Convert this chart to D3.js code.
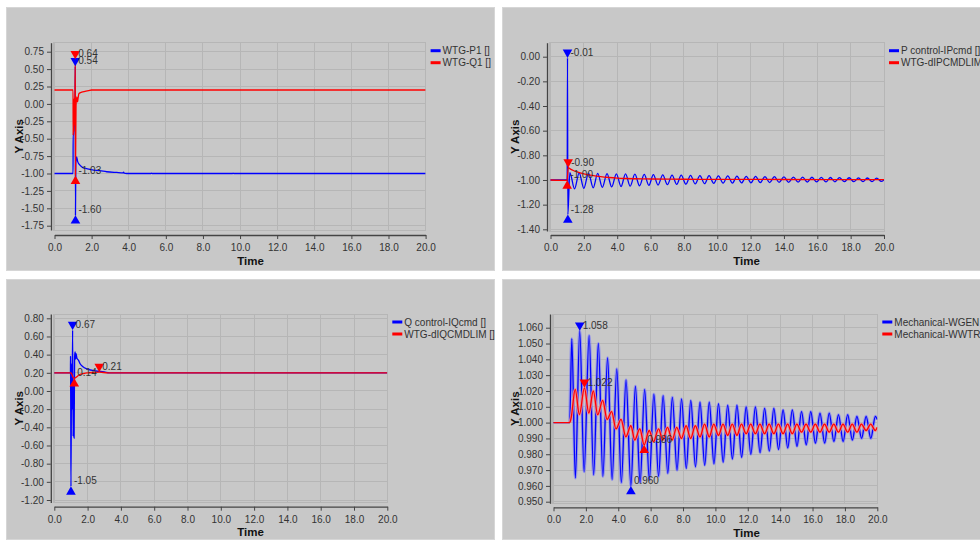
<!DOCTYPE html>
<html><head><meta charset="utf-8">
<script src="https://cdn.jsdelivr.net/npm/d3@7"></script>
<style>
html,body{margin:0;padding:0;background:#fff;}
svg{display:block;font-family:"Liberation Sans",Arial,sans-serif;}
</style></head><body>
<svg id="chart" width="980" height="540"></svg>
<script>
// ---------------- DATA ----------------
const xTicks = [0, 2, 4, 6, 8, 10, 12, 14, 16, 18, 20];
const p1YTicks = [0.75, 0.5, 0.25, 0, -0.25, -0.5, -0.75, -1, -1.25, -1.5, -1.75];
const p2YTicks = [0, -0.2, -0.4, -0.6, -0.8, -1.0, -1.2, -1.4];
const p3YTicks = [0.8, 0.6, 0.4, 0.2, 0, -0.2, -0.4, -0.6, -0.8, -1.0, -1.2];
const p4YTicks = [1.06, 1.05, 1.04, 1.03, 1.02, 1.01, 1.0, 0.99, 0.98, 0.97, 0.96, 0.95];

// Panel 1
const p1Names = ["WTG-P1 []", "WTG-Q1 []"];
const p1T_P = [0, 1.0, 1.005, 1.04, 1.07, 1.1, 1.12, 1.13, 1.15, 1.19, 1.25, 1.37, 1.55, 1.73, 2.1, 2.45, 2.81, 3.35, 3.7, 3.72, 3.76, 3.89, 5.2, 5.22, 5.26, 9.6, 9.62, 9.66, 20];
const p1V_P = [-1.0, -1.0, -0.43, -0.45, 0.05, -0.2, 0.54, -1.6, -0.85, -0.76, -0.83, -0.88, -0.92, -0.93, -0.95, -0.96, -0.975, -0.985, -0.99, -0.98, -0.995, -1.0, -1.0, -0.995, -1.0, -1.0, -0.995, -1.0, -1.0];
const p1T_Q = [0, 1.0, 1.005, 1.02, 1.04, 1.06, 1.08, 1.1, 1.12, 1.13, 1.16, 1.2, 1.24, 1.27, 1.32, 1.47, 1.65, 1.83, 2.0, 20];
const p1V_Q = [0.2, 0.2, -0.45, 0.05, -0.4, 0.08, -0.3, 0.0, 0.64, -1.03, -0.03, 0.1, 0.03, 0.08, 0.15, 0.17, 0.18, 0.19, 0.2, 0.2];

// Panel 2
const p2Names = ["P control-IPcmd []", "WTG-dIPCMDLIM []"];
const p2T_I = [0, 1.0, 1.02, 1.04, 1.16, 1.44, 1.72, 2.0, 2.28, 2.56, 2.83, 3.11, 3.39, 3.67, 3.95, 4.23, 4.5, 4.78, 5.06, 5.34, 5.62, 5.9, 6.17, 6.45, 6.73, 7.01, 7.29, 7.57, 7.84, 8.12, 8.4, 8.68, 8.96, 9.24, 9.51, 9.79, 10.07, 10.35, 10.63, 10.91, 11.18, 11.46, 11.74, 12.02, 12.3, 12.58, 12.86, 13.14, 13.43, 13.71, 14.0, 14.28, 14.57, 14.85, 15.12, 15.4, 15.68, 15.96, 16.24, 16.52, 16.78, 17.06, 17.33, 17.62, 17.91, 18.19, 18.47, 18.74, 19.0, 19.28, 19.56, 19.84, 20];
const p2V_I = [-1.0, -1.0, -0.01, -1.28, -0.94, -1.072, -0.942, -1.068, -0.944, -1.064, -0.946, -1.06, -0.948, -1.056, -0.95, -1.053, -0.951, -1.05, -0.953, -1.047, -0.955, -1.044, -0.957, -1.041, -0.958, -1.038, -0.96, -1.036, -0.961, -1.034, -0.962, -1.032, -0.964, -1.03, -0.965, -1.028, -0.966, -1.026, -0.967, -1.025, -0.969, -1.024, -0.97, -1.023, -0.971, -1.022, -0.972, -1.021, -0.973, -1.02, -0.975, -1.019, -0.976, -1.018, -0.977, -1.017, -0.978, -1.016, -0.979, -1.016, -0.98, -1.015, -0.981, -1.014, -0.982, -1.014, -0.983, -1.013, -0.984, -1.013, -0.985, -1.012, -1.0];
const p2T_L = [0, 1.0, 1.03, 1.06, 1.2, 1.4, 1.6, 2.0, 2.5, 3.0, 3.5, 4.0, 4.5, 5.0, 6.0, 8.0, 10.0, 14.0, 20];
const p2V_L = [-1.0, -1.003, -0.95, -0.9, -0.912, -0.925, -0.935, -0.95, -0.963, -0.973, -0.98, -0.985, -0.988, -0.99, -0.992, -0.994, -0.995, -0.996, -0.997];

// Panel 3
const p3Names = ["Q control-IQcmd []", "WTG-dIQCMDLIM []"];
const p3T_I = [0, 0.97, 0.975, 0.99, 1.0, 1.04, 1.07, 1.1, 1.13, 1.16, 1.19, 1.22, 1.25, 1.28, 1.31, 1.36, 1.45, 1.55, 1.7, 2.0, 2.5, 3.0, 3.3, 20];
const p3V_I = [0.2, 0.2, 0.38, -0.3, -1.05, 0.3, -0.2, 0.67, -0.5, 0.1, -0.52, 0.38, 0.43, 0.35, 0.41, 0.36, 0.34, 0.3, 0.27, 0.24, 0.22, 0.21, 0.2, 0.2];
const p3T_L = [0, 1.0, 1.05, 1.1, 1.2, 1.3, 1.45, 1.6, 1.8, 2.0, 2.3, 2.7, 3.2, 20];
const p3V_L = [0.2, 0.2, 0.185, 0.16, 0.14, 0.15, 0.17, 0.185, 0.195, 0.2, 0.204, 0.207, 0.2, 0.2];

// Panel 4
const p4Names = ["Mechanical-WGEN []", "Mechanical-WWTR []"];
const p4T_G = [0, 1.0, 1.13, 1.35, 1.62, 1.89, 2.2, 2.48, 2.77, 3.05, 3.34, 3.62, 3.91, 4.19, 4.48, 4.78, 5.06, 5.35, 5.63, 5.92, 6.2, 6.49, 6.77, 7.06, 7.34, 7.63, 7.91, 8.2, 8.48, 8.77, 9.05, 9.34, 9.62, 9.91, 10.19, 10.48, 10.76, 11.05, 11.33, 11.62, 11.9, 12.19, 12.47, 12.76, 13.04, 13.33, 13.61, 13.9, 14.18, 14.47, 14.75, 15.04, 15.32, 15.61, 15.89, 16.18, 16.46, 16.75, 17.03, 17.32, 17.6, 17.89, 18.17, 18.46, 18.74, 19.03, 19.31, 19.6, 19.88, 20];
const p4V_G = [1.0, 1.0, 1.053, 0.965, 1.058, 0.969, 1.055, 0.967, 1.05, 0.966, 1.041, 0.964, 1.034, 0.962, 1.027, 0.96, 1.023, 0.962, 1.021, 0.964, 1.018, 0.966, 1.017, 0.968, 1.016, 0.97, 1.015, 0.971, 1.014, 0.972, 1.013, 0.973, 1.013, 0.974, 1.012, 0.975, 1.011, 0.977, 1.011, 0.978, 1.01, 0.98, 1.01, 0.981, 1.009, 0.982, 1.009, 0.983, 1.008, 0.984, 1.008, 0.985, 1.007, 0.986, 1.007, 0.987, 1.006, 0.987, 1.006, 0.988, 1.005, 0.988, 1.005, 0.989, 1.004, 0.99, 1.004, 0.99, 1.004, 1.002];
const p4T_W = [0, 1.0, 1.09, 1.34, 1.6, 1.91, 2.18, 2.46, 2.73, 3.04, 3.31, 3.59, 3.86, 4.17, 4.47, 4.78, 5.02, 5.33, 5.6, 5.91, 6.18, 6.49, 6.75, 7.04, 7.33, 7.61, 7.9, 8.19, 8.47, 8.76, 9.05, 9.33, 9.62, 9.9, 10.19, 10.47, 10.76, 11.04, 11.33, 11.61, 11.9, 12.18, 12.47, 12.75, 13.04, 13.32, 13.61, 13.89, 14.18, 14.46, 14.75, 15.03, 15.32, 15.6, 15.89, 16.17, 16.46, 16.74, 17.03, 17.31, 17.6, 17.88, 18.17, 18.45, 18.74, 19.02, 19.31, 19.59, 19.88, 20];
const p4V_W = [1.0, 1.0, 1.003, 1.021, 1.005, 1.022, 1.006, 1.02, 1.005, 1.014, 1.002, 1.007, 0.996, 1.002, 0.991, 0.998, 0.989, 0.996, 0.986, 0.995, 0.988, 0.996, 0.989, 0.997, 0.989, 0.997, 0.99, 0.998, 0.99, 0.998, 0.991, 0.999, 0.991, 0.999, 0.992, 0.999, 0.992, 0.999, 0.992, 0.999, 0.993, 0.999, 0.993, 0.999, 0.993, 0.999, 0.993, 0.999, 0.993, 0.999, 0.993, 0.999, 0.994, 0.999, 0.994, 0.999, 0.994, 0.999, 0.994, 0.999, 0.994, 0.999, 0.994, 0.999, 0.994, 0.999, 0.995, 0.999, 0.995, 0.997];

// ---------------- LAYOUT ----------------
const BLUE = "#0000ff", RED = "#ff0000";
const loc = d3.formatLocale({decimal: ".", thousands: ",", grouping: [3], currency: ["", ""], minus: "-"});

const panels = [
  {box: [6, 7, 489, 264], xr: [54.5, 425.6], yd: [-1.75, 0.75], yr: [225.7, 51.7], plot: {t: 42.7, b: 230}, axisY: 235,
   yTicks: p1YTicks, yFmt: ".2f", mFmt: ".2f", names: p1Names, halo: false,
   series: [[p1T_P, p1V_P, BLUE], [p1T_Q, p1V_Q, RED]]},
  {box: [502, 7, 489, 264], xr: [550.5, 884], yd: [-1.4, 0], yr: [229.3, 56.7], plot: {t: 42.7, b: 231}, axisY: 235,
   yTicks: p2YTicks, yFmt: ".2f", mFmt: ".2f", names: p2Names, halo: false,
   series: [[p2T_I, p2V_I, BLUE], [p2T_L, p2V_L, RED]]},
  {box: [6, 279, 489, 261], xr: [54.3, 387.3], yd: [-1.2, 0.8], yr: [500, 318.3], plot: {t: 314, b: 502.5}, axisY: 506.7,
   yTicks: p3YTicks, yFmt: ".2f", mFmt: ".2f", names: p3Names, halo: false,
   series: [[p3T_I, p3V_I, BLUE], [p3T_L, p3V_L, RED]]},
  {box: [502, 279, 489, 261], xr: [553.5, 877.3], yd: [0.95, 1.06], yr: [501.7, 327.7], plot: {t: 314, b: 503.3}, axisY: 507.3,
   yTicks: p4YTicks, yFmt: ".3f", mFmt: ".3f", names: p4Names, halo: true,
   series: [[p4T_G, p4V_G, BLUE], [p4T_W, p4V_W, RED]]}
];
const haloCol = {[BLUE]: "rgba(110,110,255,0.55)", [RED]: "rgba(245,140,140,0.85)"};

const svg = d3.select("#chart");
const TXT = "#333";

panels.forEach((cfg, pi) => {
  const [bx, by, bw, bh] = cfg.box;
  const g = svg.append("g");
  g.append("rect").attr("x", bx + 0.5).attr("y", by + 0.5).attr("width", bw - 1).attr("height", bh - 1)
    .attr("fill", "#c8c8c8").attr("stroke", "#d6d6d6");

  const x = d3.scaleLinear().domain([0, 20]).range(cfg.xr);
  const cal = d3.scaleLinear().domain(cfg.yd).range(cfg.yr);
  const y = d3.scaleLinear().domain([cal.invert(cfg.plot.b), cal.invert(cfg.plot.t)]).range([cfg.plot.b, cfg.plot.t]);
  const left = cfg.xr[0] - 1, right = cfg.xr[1];

  // grid
  const grid = g.append("g").attr("stroke", "#b6b6b6").attr("stroke-width", 1).attr("shape-rendering", "crispEdges");
  grid.selectAll(null).data(xTicks).join("line")
    .attr("x1", d => x(d)).attr("x2", d => x(d)).attr("y1", cfg.plot.t).attr("y2", cfg.plot.b);
  grid.selectAll(null).data(cfg.yTicks).join("line")
    .attr("x1", left).attr("x2", right).attr("y1", d => y(d)).attr("y2", d => y(d));
  grid.append("rect").attr("x", left).attr("y", cfg.plot.t).attr("width", right - left).attr("height", cfg.plot.b - cfg.plot.t)
    .attr("fill", "none");

  // axes
  const yAxis = d3.axisLeft(y).tickValues(cfg.yTicks).tickFormat(loc.format(cfg.yFmt)).tickSize(4).tickSizeOuter(0).tickPadding(3);
  const ya = g.append("g").attr("transform", `translate(${left - 2.5},0)`).call(yAxis);
  const xAxis = d3.axisBottom(x).tickValues(xTicks).tickFormat(loc.format(".1f")).tickSize(4).tickSizeOuter(0).tickPadding(5);
  const xa = g.append("g").attr("transform", `translate(0,${cfg.axisY})`).call(xAxis);
  [ya, xa].forEach(a => {
    a.attr("font-family", null).attr("font-size", 10);
    a.selectAll("path").attr("stroke", "#444").attr("stroke-width", 1.3);
    a.selectAll("line").attr("stroke", "#444");
    a.selectAll("text").attr("fill", TXT);
  });

  // titles
  g.append("text").attr("x", bx + bw / 2).attr("y", cfg.axisY + 29.5).attr("text-anchor", "middle")
    .attr("font-size", 11.5).attr("font-weight", "bold").attr("fill", "#111").text("Time");
  g.append("text").attr("transform", `translate(${bx + 13},${(cfg.plot.t + cfg.plot.b) / 2}) rotate(-90)`)
    .attr("text-anchor", "middle").attr("dy", "0.35em")
    .attr("font-size", 11.5).attr("font-weight", "bold").attr("fill", "#111").text("Y Axis");

  // clip
  const cid = "clip" + pi;
  g.append("clipPath").attr("id", cid).append("rect")
    .attr("x", left).attr("y", cfg.plot.t).attr("width", right - left).attr("height", cfg.plot.b - cfg.plot.t);

  const line = d3.line().x(d => x(d[0])).y(d => y(d[1])).curve(d3.curveMonotoneX);
  const lines = g.append("g").attr("clip-path", `url(#${cid})`);
  cfg.series.forEach(([ts, vs, col]) => {
    const pts = ts.map((t, i) => [t, vs[i]]);
    if (cfg.halo) {
      lines.append("path").datum(pts.filter(d => d[0] >= 1.0)).attr("d", line).attr("fill", "none")
        .attr("stroke", haloCol[col]).attr("stroke-width", 3).attr("stroke-linejoin", "round");
    }
    lines.append("path").datum(pts).attr("d", line).attr("fill", "none")
      .attr("stroke", col).attr("stroke-width", 1.3).attr("stroke-linejoin", "round");
  });

  // min/max markers
  const tri = d3.symbol(d3.symbolTriangle, 40);
  const triR = Math.sqrt(40 / (Math.sqrt(3) * 3));
  const mfmt = loc.format(cfg.mFmt);
  const mk = g.append("g");
  cfg.series.forEach(([ts, vs, col]) => {
    const iMax = d3.maxIndex(vs), iMin = d3.minIndex(vs);
    const px = x(ts[iMax]), py = y(vs[iMax]);
    mk.append("path").attr("d", tri).attr("fill", col)
      .attr("transform", `translate(${px},${py - 2 * triR}) rotate(180)`);
    mk.append("text").attr("x", px + 3).attr("y", py - 2).attr("font-size", 10).attr("fill", TXT).text(mfmt(vs[iMax]));
    const qx = x(ts[iMin]), qy = y(vs[iMin]);
    mk.append("path").attr("d", tri).attr("fill", col)
      .attr("transform", `translate(${qx},${qy + 2 * triR})`);
    mk.append("text").attr("x", qx + 3).attr("y", qy - 2).attr("font-size", 10).attr("fill", TXT).text(mfmt(vs[iMin]));
  });

  // legend
  const lg = g.append("g").attr("transform", `translate(${right + 5},${cfg.plot.t + 8})`);
  cfg.names.forEach((n, i) => {
    const col = cfg.series[i][2];
    lg.append("line").attr("x1", 0).attr("x2", 10).attr("y1", i * 12).attr("y2", i * 12)
      .attr("stroke", col).attr("stroke-width", 3);
    lg.append("text").attr("x", 12).attr("y", i * 12).attr("dy", "0.35em").attr("font-size", 10)
      .attr("fill", TXT).text(n);
  });
});
</script>
</body></html>
